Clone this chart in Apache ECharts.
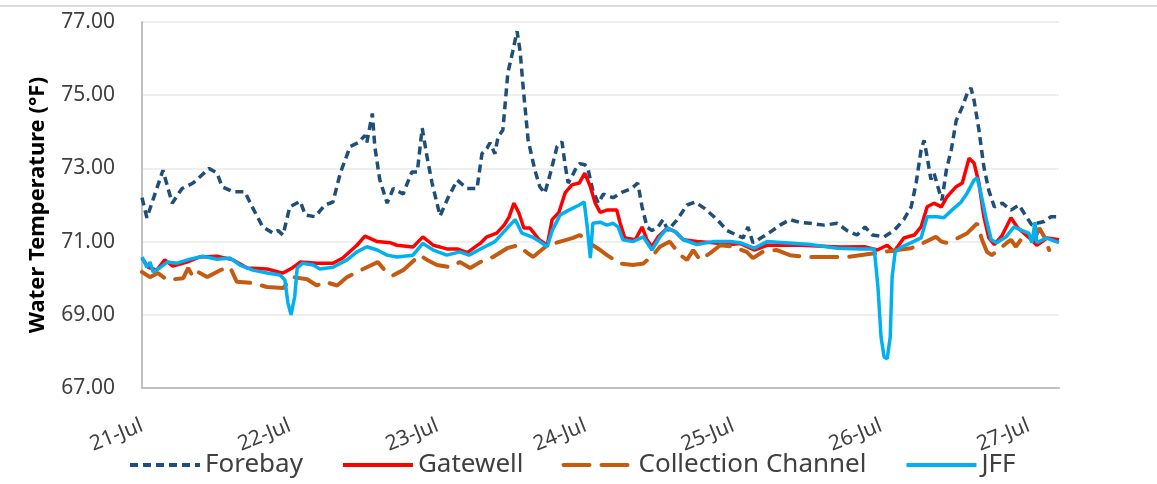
<!DOCTYPE html>
<html lang="en">
<head>
    <meta charset="utf-8" />
    <title>Water Temperature</title>
    <script src="https://cdn.jsdelivr.net/npm/echarts@6.0.0/dist/echarts.min.js"></script>
    <style>
        html, body { margin: 0; padding: 0; background: #fff; }
        #box { width: 1157px; height: 484px; }
    </style>
</head>
<body>
<div id="box"></div>
<script>
    // hours since 21-Jul 00:00 and temperatures (°F)
    var forebayHours = [0,0.8,3.4,4.9,6.5,8.3,10.9,12.2,13.0,14.8,16.7,17.9,19.6,21.3,22.1,22.9,24.0,25.7,26.5,28.1,29.7,31.0,32.2,33.8,35.1,36.2,36.5,37.4,37.8,38.6,39.8,40.8,42.4,43.8,44.7,45.5,46.3,47.1,48.4,49.7,51.2,52.8,54.4,55.2,56.0,56.5,57.3,57.8,58.6,59.4,60.2,60.9,61.4,61.9,62.7,63.8,64.6,65.4,66.3,67.4,68.2,68.7,69.2,69.8,70.6,71.1,71.9,72.4,73.2,74.1,74.9,76.5,78.1,79.5,80.5,81.2,82.0,82.8,83.8,84.6,85.4,86.9,88.5,89.8,91.4,93.4,95.0,97.6,98.4,99.2,100.8,102.0,103.6,105.2,106.7,108.5,110.8,112.9,114.5,116.1,117.4,118.6,120.5,122.1,123.7,124.9,125.7,126.5,127.0,127.5,128.1,128.6,129.4,129.9,130.6,131.4,132.2,133.2,134.0,134.6,135.1,135.9,136.7,137.5,138.4,139.7,141.1,142.4,143.6,144.5,145.3,146.5,147.6,148.9];
    var forebayTemps = [72.2,71.65,72.95,72.05,72.45,72.6,73.0,72.87,72.5,72.36,72.36,71.95,71.4,71.23,71.3,71.18,71.95,72.1,71.73,71.68,72.0,72.08,72.87,73.6,73.7,73.9,73.7,74.5,73.6,72.7,72.05,72.45,72.3,72.9,72.9,74.1,73.3,72.6,71.7,72.2,72.68,72.45,72.45,73.4,73.55,73.7,73.4,73.85,74.05,75.6,76.2,76.75,76.2,75.2,73.77,72.95,72.5,72.32,72.86,73.6,73.73,73.1,72.6,72.78,73.05,73.13,73.1,73.0,72.4,72.05,72.3,72.2,72.36,72.45,72.6,71.95,71.4,71.3,71.4,71.6,71.3,71.6,72.0,72.08,71.9,71.6,71.3,71.1,71.4,70.97,71.13,71.26,71.45,71.6,71.53,71.5,71.45,71.5,71.3,71.18,71.4,71.18,71.13,71.3,71.6,71.95,72.6,73.5,73.77,73.3,72.7,72.87,72.4,72.13,72.95,73.5,74.3,74.68,75.05,75.2,74.87,74.05,73.04,72.4,71.95,72.05,71.86,72.0,71.68,71.45,71.5,71.55,71.68,71.68];

    var gatewellHours = [0,1.0,2.4,3.7,5.0,7.3,9.4,12.2,14.8,17.1,20.3,22.9,24.4,25.7,28.4,31.0,32.6,34.9,36.2,38.2,40.3,41.4,44.0,45.6,47.3,49.5,51.2,52.8,54.9,56.0,57.6,58.8,59.6,60.4,61.2,62.0,63.0,64.5,65.8,66.6,67.7,68.7,69.8,71.0,71.9,72.8,73.6,74.4,75.5,77.1,77.6,78.4,80.1,81.2,82.0,82.8,83.8,85.3,86.6,87.9,90.1,92.7,95.5,97.1,99.4,101.5,106.9,113.3,117.3,119.4,121.0,122.1,123.7,125.4,126.5,127.5,128.6,129.8,130.7,132.2,133.2,134.3,135.1,135.9,136.7,137.5,138.4,139.7,141.1,142.1,143.2,144.4,145.3,147.0,148.9];
    var gatewellTemps = [70.55,70.3,70.22,70.5,70.33,70.44,70.58,70.6,70.5,70.28,70.25,70.14,70.28,70.44,70.41,70.41,70.55,70.9,71.15,71.0,70.97,70.9,70.85,71.13,70.9,70.8,70.8,70.7,70.95,71.13,71.23,71.45,71.67,72.05,71.78,71.37,71.37,71.05,70.9,71.6,71.8,72.33,72.55,72.6,72.87,72.5,72.05,71.8,71.86,71.86,71.53,71.1,71.05,71.4,71.05,70.86,71.13,71.37,71.27,71.05,71.0,70.97,70.92,70.95,70.77,70.9,70.9,70.85,70.86,70.77,70.9,70.72,71.1,71.18,71.4,71.95,72.05,71.95,72.22,72.5,72.6,73.28,73.15,72.6,71.68,71.1,70.92,71.18,71.65,71.4,71.23,71.05,70.9,71.1,71.05];

    var channelHours = [0,1.3,2.6,4.1,6.7,7.5,8.3,9.1,10.6,12.7,14.3,15.4,18.0,20.3,22.9,24.5,26.8,28.4,29.7,31.7,33.3,35.9,38.3,39.8,40.8,42.4,45.1,46.3,47.9,50.0,51.6,53.3,54.9,57.0,59.3,61.1,62.5,63.5,65.8,67.9,70.0,71.1,73.2,74.4,75.5,77.6,79.7,81.4,83.0,84.1,85.7,87.4,88.5,89.5,90.6,92.2,93.9,96.0,98.2,99.2,100.8,103.1,105.2,108.0,110.8,114.5,118.9,122.6,124.9,126.7,128.9,129.8,130.6,131.9,134.0,135.6,136.4,137.2,138.0,140.3,141.1,141.9,142.9,144.0,144.9,145.7,146.5,147.3];
    var channelTemps = [70.17,70.03,70.14,69.95,70.0,70.28,70.03,70.17,70.03,70.22,70.3,69.9,69.87,69.76,69.73,70.03,69.97,69.8,69.9,69.8,70.03,70.25,70.44,70.14,70.08,70.22,70.63,70.5,70.36,70.3,70.44,70.28,70.44,70.58,70.82,70.9,70.7,70.58,70.9,71.0,71.1,71.18,70.9,70.77,70.63,70.4,70.36,70.4,70.63,70.86,71.0,70.63,70.5,70.77,70.5,70.68,70.9,70.86,70.72,70.55,70.72,70.77,70.63,70.58,70.58,70.58,70.68,70.77,70.82,70.95,71.13,71.0,70.97,71.05,71.23,71.5,71.05,70.72,70.63,70.95,71.05,70.86,71.1,71.1,71.05,71.37,71.13,70.77];

    var jffHours = [0,0.8,1.3,1.8,2.6,4.1,5.7,7.8,9.9,12.2,14.3,15.9,18.0,20.3,22.4,23.2,23.7,24.2,24.5,24.8,25.2,26.1,27.8,28.9,31.0,33.3,34.9,36.5,38.2,39.8,41.4,44.0,45.6,47.3,49.5,51.6,53.1,55.2,57.3,59.3,60.6,61.7,63.3,64.6,65.8,66.6,67.9,69.3,71.0,71.8,72.3,72.8,73.2,74.4,75.5,76.5,77.3,78.1,79.7,81.4,82.8,84.1,85.3,86.6,87.9,90.1,92.7,95.5,97.1,99.4,101.5,104.3,108.5,112.9,116.6,118.9,119.2,119.5,120.0,120.5,121.0,121.5,121.8,122.3,123.3,124.9,126.5,127.5,129.1,130.2,131.5,133.0,134.0,135.1,135.6,136.2,137.1,137.9,138.8,140.3,141.6,142.9,144.0,144.5,145.0,145.3,146.8,148.4,148.9];
    var jffTemps = [70.58,70.3,70.44,70.17,70.25,70.44,70.41,70.52,70.6,70.52,70.55,70.36,70.22,70.14,70.09,69.95,69.32,69.0,69.0,69.5,70.28,70.41,70.36,70.25,70.3,70.5,70.72,70.86,70.77,70.63,70.58,70.63,70.95,70.77,70.63,70.72,70.63,70.82,71.0,71.37,71.6,71.23,71.13,71.0,70.86,71.3,71.73,71.86,72.0,72.08,71.4,70.55,71.5,71.53,71.45,71.5,71.4,71.05,71.0,71.13,70.77,71.13,71.37,71.27,71.05,70.92,71.0,71.0,70.97,70.82,71.0,70.97,70.92,70.82,70.8,70.8,70.77,69.76,68.4,67.85,67.8,68.4,70.03,70.72,70.85,70.97,71.1,71.68,71.68,71.65,71.86,72.08,72.33,72.68,72.74,72.33,71.6,71.05,70.97,71.13,71.4,71.3,71.23,70.97,71.53,70.97,71.1,71.0,70.97];

    var startDay = 21;
    var yTicks = [67, 69, 71, 73, 75, 77];

    function pairs(hours, temps) {
        return hours.map(function (h, i) { return [h, temps[i]]; });
    }

    var font = 'Noto Sans';
    var myChart = echarts.init(document.getElementById('box'));
    var option = {
        animation: false,
        backgroundColor: '#fff',
        graphic: [{
            type: 'line',
            shape: { x1: 0, y1: 6, x2: 1157, y2: 6 },
            style: { stroke: '#D0D0D0', lineWidth: 1.5 }
        }],
        grid: { left: 142, right: 98, top: 22, bottom: 96 },
        legend: {
            left: 123,
            top: 447,
            itemWidth: 70,
            itemHeight: 14,
            itemGap: 38,
            itemStyle: { opacity: 0 },
            lineStyle: { width: 4 },
            textStyle: { fontFamily: font, fontSize: 26, color: '#404040' },
            data: ['Forebay', 'Gatewell', 'Collection Channel', 'JFF']
        },
        xAxis: {
            type: 'value',
            min: 0,
            max: 148.9,
            interval: 24,
            axisLine: { lineStyle: { color: '#C0C0C0', width: 2 } },
            axisTick: { show: false },
            splitLine: { show: false },
            axisLabel: {
                rotate: 22,
                margin: 37,
                showMaxLabel: false,
                fontFamily: font,
                fontSize: 21,
                color: '#404040',
                formatter: function (v) {
                    return v % 24 === 0 ? (startDay + v / 24) + '-Jul' : '';
                }
            }
        },
        yAxis: {
            type: 'value',
            min: yTicks[0],
            max: yTicks[yTicks.length - 1],
            interval: 2,
            name: 'Water Temperature (°F)',
            nameLocation: 'middle',
            nameGap: 93,
            nameTextStyle: { fontFamily: font, fontSize: 22, fontWeight: 'bold', color: '#000' },
            axisLine: { show: true, lineStyle: { color: '#C0C0C0', width: 2 } },
            axisTick: { show: false },
            splitLine: { lineStyle: { color: '#EFEFEF', width: 2 } },
            axisLabel: {
                margin: 27,
                fontFamily: font,
                fontSize: 21,
                color: '#404040',
                formatter: function (v) { return v.toFixed(2); }
            }
        },
        series: [
            {
                name: 'Forebay',
                type: 'line',
                symbol: 'none',
                color: '#1F4E79',
                lineStyle: { width: 3.5, type: [8, 5], color: '#1F4E79' },
                data: pairs(forebayHours, forebayTemps)
            },
            {
                name: 'Gatewell',
                type: 'line',
                symbol: 'none',
                color: '#FF0000',
                lineStyle: { width: 3.5, color: '#FF0000' },
                data: pairs(gatewellHours, gatewellTemps)
            },
            {
                name: 'Collection Channel',
                type: 'line',
                symbol: 'none',
                color: '#C55A11',
                lineStyle: { width: 4, type: [26, 12], cap: 'round', color: '#C55A11' },
                data: pairs(channelHours, channelTemps)
            },
            {
                name: 'JFF',
                type: 'line',
                symbol: 'none',
                color: '#00B0F0',
                lineStyle: { width: 3.5, color: '#00B0F0' },
                data: pairs(jffHours, jffTemps)
            }
        ]
    };
    myChart.setOption(option);
</script>
</body>
</html>
